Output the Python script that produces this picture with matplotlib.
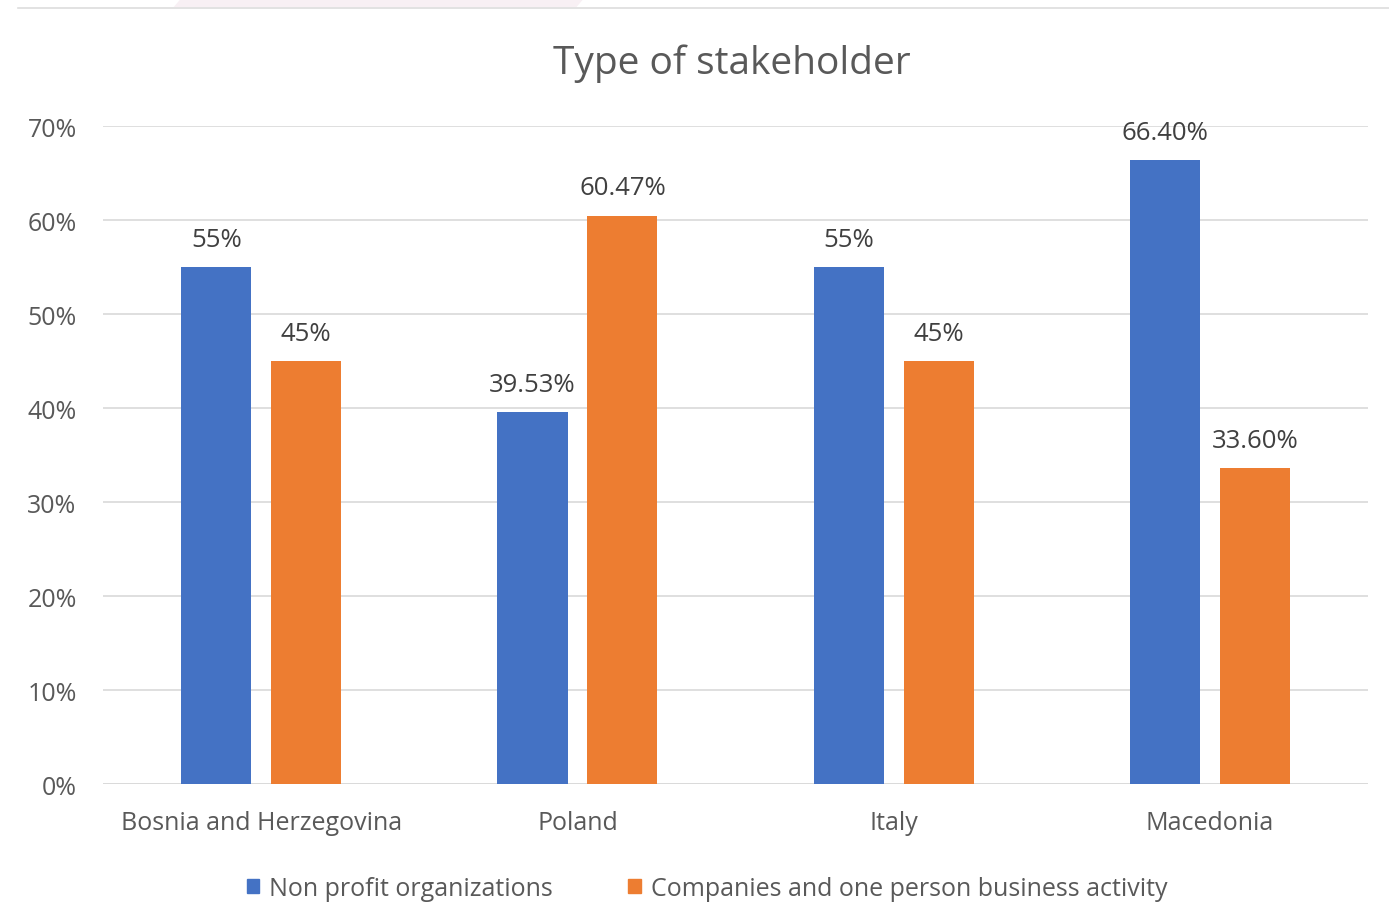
import matplotlib.pyplot as plt
import numpy as np
from matplotlib.lines import Line2D
from matplotlib.patches import Polygon

plt.rcParams['font.family'] = ['Open Sans', 'DejaVu Sans']

countries = ['Bosnia and Herzegovina', 'Poland', 'Italy', 'Macedonia']
nonprofit = [55, 39.53, 55, 66.40]
companies = [45, 60.47, 45, 33.60]
nonprofit_labels = ['55%', '39.53%', '55%', '66.40%']
companies_labels = ['45%', '60.47%', '45%', '33.60%']
series_names = ['Non profit organizations', 'Companies and one person business activity']

blue = '#4472C4'
orange = '#ED7D31'
txt = '#595959'

fig = plt.figure(figsize=(13.89, 9.04), dpi=100)
# faint decoration at the top of the slide
fig.add_artist(Line2D([0.013, 1.0], [0.990, 0.990], color='#DDDDDD', linewidth=1.2))
fig.add_artist(Polygon([[0.13, 1.0], [0.42, 1.0], [0.415, 0.991], [0.125, 0.991]],
                       closed=True, facecolor='#F8F0F4', edgecolor='none'))

ax = fig.add_axes([0.0742, 0.1316, 0.9108, 0.7279])
x = np.arange(len(countries))
w = 0.222
off = 0.142
b1 = ax.bar(x - off, nonprofit, w, color=blue, zorder=3)
b2 = ax.bar(x + off, companies, w, color=orange, zorder=3)

for bars, labels in ((b1, nonprofit_labels), (b2, companies_labels)):
    for rect, lab in zip(bars, labels):
        ax.annotate(lab, (rect.get_x() + rect.get_width() / 2, rect.get_height()),
                    xytext=(0, 11), textcoords='offset points', ha='center', va='bottom',
                    fontsize=18.5, color='#404040')

ax.set_xlim(-0.5, 3.5)
ax.set_ylim(0, 70)
ax.set_yticks(np.arange(0, 71, 10))
ax.set_yticklabels([f'{v}%' for v in range(0, 71, 10)])
ax.set_xticks(x)
ax.set_xticklabels(countries)
ax.tick_params(axis='both', length=0, labelsize=18, colors=txt)
ax.tick_params(axis='y', pad=19)
ax.tick_params(axis='x', pad=19)
ax.yaxis.grid(True, color='#D9D9D9', linewidth=1.2, zorder=0)
for s in ax.spines.values():
    s.set_visible(False)
ax.axhline(0, color='#D9D9D9', linewidth=1.2, zorder=1)

fig.text(0.527, 0.930, 'Type of stakeholder', ha='center', va='center', fontsize=28, color=txt)

handles = [plt.Rectangle((0, 0), 1, 1, color=blue), plt.Rectangle((0, 0), 1, 1, color=orange)]
fig.legend(handles, series_names, loc='center', bbox_to_anchor=(0.509, 0.016), ncol=2,
           frameon=False, fontsize=18, handlelength=0.5, handleheight=0.5,
           handletextpad=0.4, columnspacing=3.0, labelcolor=txt)

fig.savefig('out.png', dpi=100)
